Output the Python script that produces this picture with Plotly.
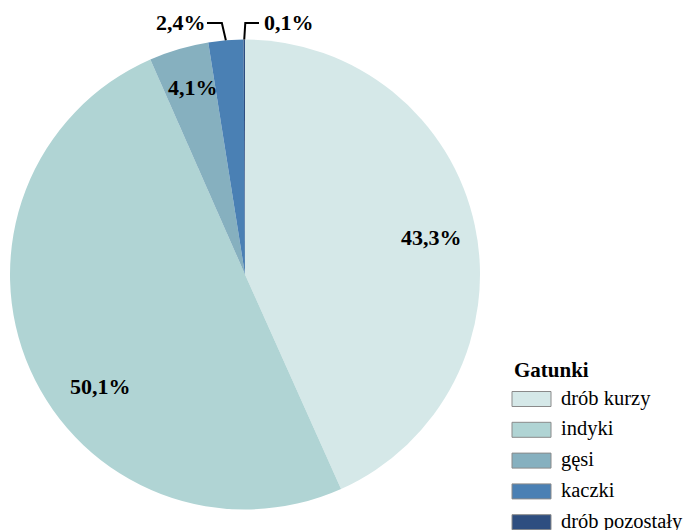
import math
import plotly.graph_objects as go

labels = ["drób kurzy", "indyki", "gęsi", "kaczki", "drób pozostały"]
values = [43.3, 50.1, 4.1, 2.4, 0.1]
text_labels = ["43,3%", "50,1%", "4,1%", "2,4%", "0,1%"]
colors = ["#D5E8E8", "#B0D4D4", "#86B0BF", "#4A80B4", "#2E4E80"]
legend_title = "Gatunki"

W, H = 689, 530
FONT = "Liberation Serif"

# pie geometry in pixels
CX, CY, R = 245, 274.5, 235


def px(x):
    return x / W


def py(y):
    return 1 - y / H


fig = go.Figure()
fig.add_trace(go.Pie(
    labels=labels, values=values, text=text_labels,
    textinfo="none", sort=False, direction="clockwise", rotation=0,
    marker=dict(colors=colors, line=dict(width=0)),
    domain=dict(x=[px(CX - R), px(CX + R)], y=[py(CY + R), py(CY - R)]),
    showlegend=False, hoverinfo="label+text", automargin=False,
))

# slice label positions (pixel layout) and leader lines for the small slices
label_pos = [(431, 237), (101, 386), (193, 88), (181, 23), (289, 23)]
leader = {3: (-1, 207), 4: (1, 259)}  # side, label-end x
total = sum(values)
cum = 0.0
for i, (v, t) in enumerate(zip(values, text_labels)):
    mid = (cum + v / 2) / total * 2 * math.pi
    cum += v
    lx, ly = label_pos[i]
    fig.add_annotation(x=px(lx), y=py(ly), xref="paper", yref="paper",
                       text="<b>" + t + "</b>", showarrow=False,
                       xanchor="center", yanchor="middle",
                       font=dict(family=FONT, size=22, color="black"))
    if i in leader:
        side, endx = leader[i]
        ex = CX + R * math.sin(mid)
        ey = CY - R * math.cos(mid)
        elbow_x = ex - 4 if side < 0 else ex + 1
        ey_el = ly
        path = "M {:.4f} {:.4f} L {:.4f} {:.4f} L {:.4f} {:.4f}".format(
            px(ex), py(ey), px(elbow_x), py(ey_el), px(endx), py(ey_el))
        fig.add_shape(type="path", path=path, xref="paper", yref="paper",
                      line=dict(color="black", width=2))

# custom legend
lx0, lw, lh = 512, 39, 15
fig.add_annotation(x=px(lx0), y=py(370), xref="paper", yref="paper",
                   text="<b>" + legend_title + "</b>", showarrow=False,
                   xanchor="left", yanchor="middle",
                   font=dict(family=FONT, size=21, color="black"))
for i, (lab, col) in enumerate(zip(labels, colors)):
    cy = 399 + i * 30.8
    fig.add_shape(type="rect", xref="paper", yref="paper",
                  x0=px(lx0), x1=px(lx0 + lw),
                  y0=py(cy - lh / 2), y1=py(cy + lh / 2),
                  fillcolor=col, line=dict(color="#8a8a8a", width=1))
    fig.add_annotation(x=px(lx0 + lw + 8), y=py(cy - 1), xref="paper", yref="paper",
                       text=lab, showarrow=False, xanchor="left", yanchor="middle",
                       font=dict(family=FONT, size=20.5, color="black"))

fig.update_layout(width=W, height=H, margin=dict(l=0, r=0, t=0, b=0),
                  paper_bgcolor="white", plot_bgcolor="white",
                  font=dict(family=FONT))
fig.write_html("out.html", config={"displayModeBar": False},
               post_script="document.body.style.margin='0';")
